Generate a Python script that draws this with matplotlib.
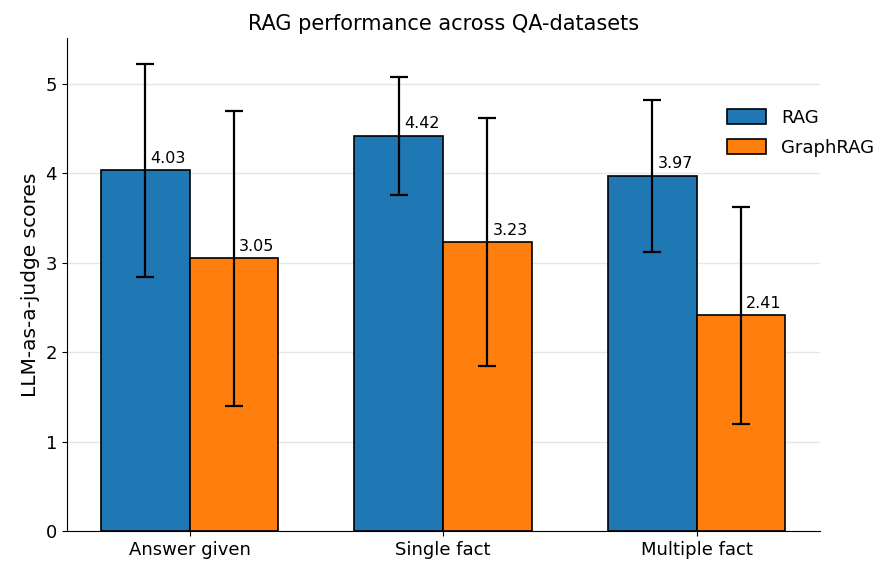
import matplotlib.pyplot as plt
import numpy as np

categories = ['Answer given', 'Single fact', 'Multiple fact']
rag_scores = [4.03, 4.42, 3.97]
graphrag_scores = [3.05, 3.23, 2.41]
rag_err = [1.19, 0.66, 0.85]
graphrag_err = [1.65, 1.39, 1.21]


def create_graph():
    fig, ax = plt.subplots(figsize=(8.88, 5.68), dpi=100)
    bar_width = 0.35
    x = np.arange(len(categories))

    bars1 = ax.bar(x - bar_width / 2, rag_scores, bar_width, yerr=rag_err, capsize=6.5,
                   label='RAG', color='#1f77b4', edgecolor='black', linewidth=1.2,
                   error_kw={'elinewidth': 1.6, 'capthick': 1.6}, zorder=2)
    bars2 = ax.bar(x + bar_width / 2, graphrag_scores, bar_width, yerr=graphrag_err, capsize=6.5,
                   label='GraphRAG', color='#ff7f0e', edgecolor='black', linewidth=1.2,
                   error_kw={'elinewidth': 1.6, 'capthick': 1.6}, zorder=2)

    # valori sopra le barre
    for bars in (bars1, bars2):
        for b in bars:
            h = b.get_height()
            ax.text(b.get_x() + b.get_width() / 2 + 0.02, h + 0.05, f'{h:.2f}',
                    ha='left', va='bottom', fontsize=11.5)

    ax.set_title('RAG performance across QA-datasets', fontsize=15)
    ax.set_ylabel('LLM-as-a-judge scores', fontsize=14.5)
    ax.set_xticks(x)
    ax.set_xticklabels(categories, fontsize=13)
    ax.tick_params(axis='y', labelsize=13)
    ax.set_ylim(0, 5.51)

    ax.spines['top'].set_visible(False)
    ax.spines['right'].set_visible(False)
    ax.yaxis.grid(True, color='#e6e6e6', linewidth=1, zorder=0)
    ax.set_axisbelow(True)

    ax.legend(frameon=False, fontsize=13, loc='upper left', bbox_to_anchor=(0.855, 0.89),
              handlelength=2.2, handleheight=0.9, labelspacing=0.7)

    fig.subplots_adjust(left=0.075, right=0.923, top=0.933, bottom=0.065)
    fig.savefig('out.png')


if __name__ == "__main__":
    create_graph()
